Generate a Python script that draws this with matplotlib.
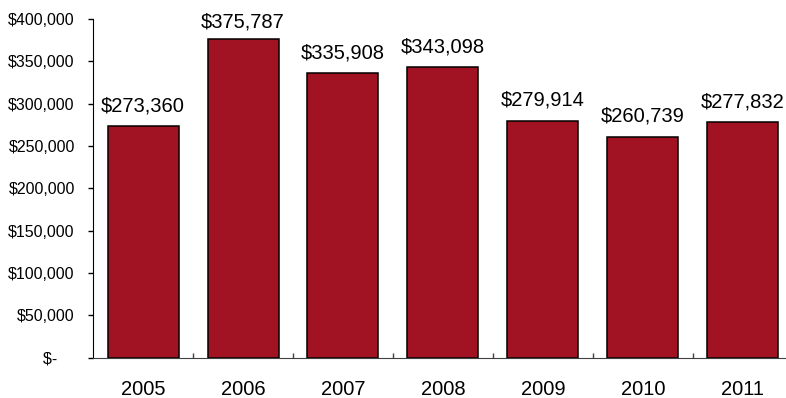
import matplotlib
matplotlib.use("Agg")
import matplotlib.pyplot as plt
from matplotlib.ticker import FuncFormatter, FixedLocator

years = ["2005", "2006", "2007", "2008", "2009", "2010", "2011"]
values = [273360, 375787, 335908, 343098, 279914, 260739, 277832]
y_ticks = [0, 50000, 100000, 150000, 200000, 250000, 300000, 350000, 400000]

plt.rcParams["font.family"] = ["Liberation Sans", "DejaVu Sans"]

fig = plt.figure(figsize=(7.86, 3.98), dpi=100)
ax = fig.add_axes([93 / 786, (398 - 357.5) / 398, 700 / 786, 338.5 / 398])

x = list(range(len(years)))
ax.bar(x, values, width=0.71, color="#A11222", edgecolor="black", linewidth=1.1)

ax.set_xlim(-0.5, len(years) - 0.5)
ax.set_ylim(0, 400000)

# value labels sit a fixed gap above each bar, but never rise above the plot top
units_per_px = 400000 / 338.5
gap = 15 * units_per_px
ceiling = 400000 - 8.7 * units_per_px
for xi, v in zip(x, values):
    ax.text(xi, min(v + gap, ceiling), f"${v:,.0f}", ha="center", va="baseline",
            fontsize=14.5, color="black")

ax.set_yticks(y_ticks)
ax.yaxis.set_major_formatter(FuncFormatter(lambda v, p: "$-    " if v == 0 else f"${v:,.0f}"))
ax.tick_params(axis="y", direction="out", length=3.6, width=1, labelsize=11.5, pad=9.5)

ax.set_xticks(x)
ax.set_xticklabels(years)
ax.xaxis.set_minor_locator(FixedLocator([i + 0.5 for i in x[:-1]]))
ax.tick_params(axis="x", which="major", length=0, labelsize=14.5, pad=16)
ax.tick_params(axis="x", which="minor", direction="in", length=3.6, width=1, color="#404040")

for s in ("top", "right"):
    ax.spines[s].set_visible(False)
ax.spines["left"].set_color("black")
ax.spines["bottom"].set_color("#404040")

fig.savefig("out.png", dpi=100)
